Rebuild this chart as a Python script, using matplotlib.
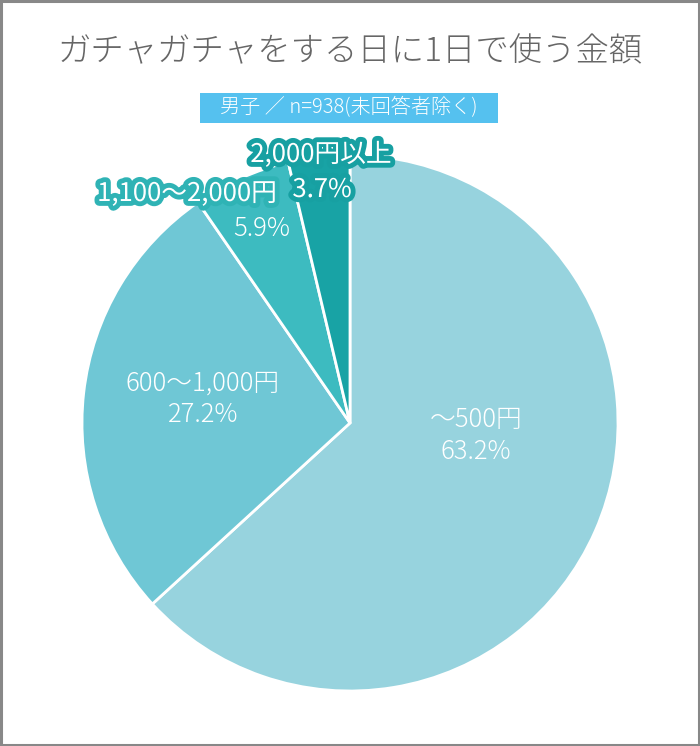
import matplotlib
matplotlib.use("Agg")
import matplotlib.pyplot as plt
import matplotlib.patheffects as pe
from matplotlib.patches import Rectangle

plt.rcParams['font.family'] = ['Noto Sans CJK JP', 'DejaVu Sans']

title = "ガチャガチャをする日に1日で使う金額"
subtitle = "男子 ／ n=938(未回答者除く)"
categories = ["〜500円", "600〜1,000円", "1,100〜2,000円", "2,000円以上"]
values = [63.2, 27.2, 5.9, 3.7]
colors = ["#97d3de", "#6fc7d5", "#3dbbc0", "#18a3a5"]

W, H = 700, 746
fig = plt.figure(figsize=(W / 100, H / 100), dpi=100)
ax = fig.add_axes([0, 0, 1, 1])

def Y(py):
    return H - py

ax.pie(values, colors=colors, startangle=90, counterclock=False,
       center=(350, Y(423)), radius=268, frame=True,
       wedgeprops=dict(edgecolor="white", linewidth=2))
ax.set_xlim(0, W)
ax.set_ylim(0, H)
ax.set_aspect('equal')
ax.axis('off')

# frame
ax.add_patch(Rectangle((1, 1), W - 2, H - 2, fill=False, edgecolor="#888888", lw=2.2))

# title
ax.text(350, Y(52), title, ha='center', va='center', fontsize=24, color="#666666",
        fontweight='light')
# subtitle box
ax.add_patch(Rectangle((200, Y(123)), 298, 30, facecolor="#55c1ef", edgecolor="none"))
ax.text(349, Y(108), subtitle, ha='center', va='center', fontsize=14.5, color="white",
        fontweight='light')

# labels
lab_fs = 18.5
ax.text(476, Y(420), categories[0], ha='center', va='center', fontsize=lab_fs,
        color="white", fontweight='light')
ax.text(476, Y(452), f"{values[0]}%", ha='center', va='center', fontsize=lab_fs,
        color="white", fontweight='light')
ax.text(203, Y(383), categories[1], ha='center', va='center', fontsize=lab_fs,
        color="white", fontweight='light')
ax.text(203, Y(415), f"{values[1]}%", ha='center', va='center', fontsize=lab_fs,
        color="white", fontweight='light')

stroke2 = [pe.withStroke(linewidth=7, foreground="#2fb3b5")]
stroke3 = [pe.withStroke(linewidth=7, foreground="#17a0a2")]
ax.text(187, Y(194), categories[2], ha='center', va='center', fontsize=lab_fs,
        color="white", path_effects=stroke2)
ax.text(262, Y(229), f"{values[2]}%", ha='center', va='center', fontsize=lab_fs,
        color="white", fontweight='light')
ax.text(321, Y(155), categories[3], ha='center', va='center', fontsize=lab_fs,
        color="white", path_effects=stroke3)
ax.text(322, Y(190), f"{values[3]}%", ha='center', va='center', fontsize=lab_fs,
        color="white", path_effects=stroke3)

fig.savefig("out.png", dpi=100)
